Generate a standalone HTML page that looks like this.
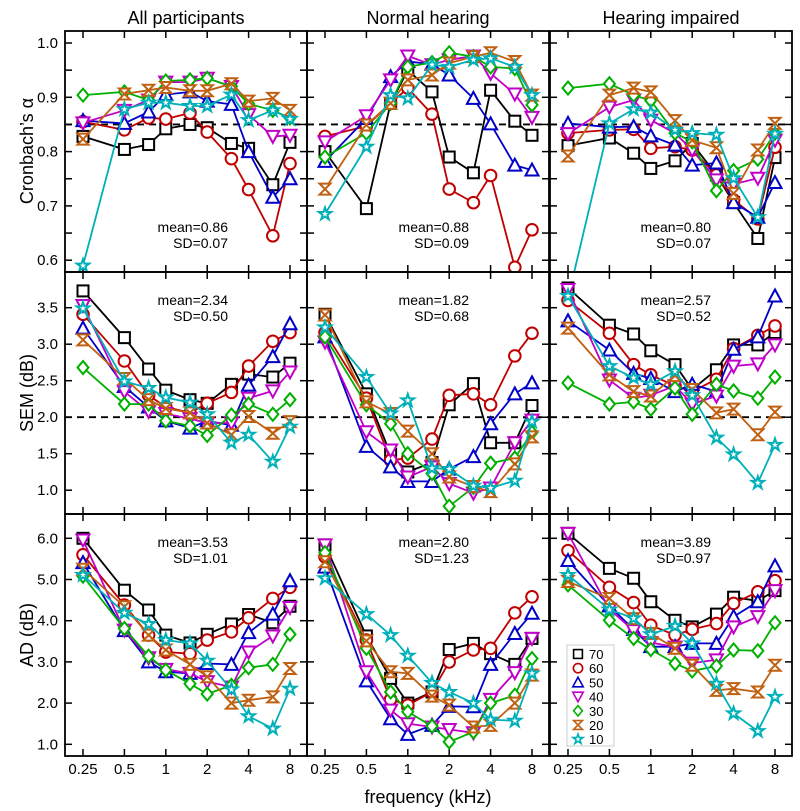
<!DOCTYPE html>
<html><head><meta charset="utf-8"><style>
body{margin:0;background:#fff;}
svg{display:block;font-family:"Liberation Sans",sans-serif;}
</style></head><body>
<svg id="chart" width="800" height="811" viewBox="0 0 800 811"></svg>
<script>
const freqs=[0.25,0.5,0.75,1,1.5,2,3,4,6,8];
const levels=["70","60","50","40","30","20","10"];
const colTitles=["All participants","Normal hearing","Hearing impaired"];
const rowTitles=["Cronbach\u2019s \u03b1","SEM (dB)","AD (dB)"];
const xTickLabels=["0.25","0.5","1","2","4","8"];
const xTickVals=[0.25,0.5,1,2,4,8];
const alphaTicks=[0.6,0.7,0.8,0.9,1.0];
const semTicks=[1.0,1.5,2.0,2.5,3.0,3.5];
const adTicks=[1.0,2.0,3.0,4.0,5.0,6.0];
const statsMean=[["0.86","0.88","0.80"],["2.34","1.82","2.57"],["3.53","2.80","3.89"]];
const statsSD=[["0.07","0.09","0.07"],["0.50","0.68","0.52"],["1.01","1.23","0.97"]];
const refLines=[0.85,2.0,null];
// alpha
const alphaAll=[
[0.828,0.804,0.813,0.842,0.85,0.844,0.815,0.806,0.739,0.817],
[0.855,0.84,0.862,0.86,0.871,0.836,0.787,0.73,0.645,0.778],
[0.857,0.852,0.873,0.905,0.91,0.893,0.887,0.80,0.716,0.75],
[0.853,0.876,0.895,0.928,0.928,0.935,0.92,0.868,0.828,0.83],
[0.904,0.91,0.895,0.93,0.932,0.935,0.92,0.888,0.876,0.862],
[0.823,0.906,0.913,0.918,0.912,0.912,0.925,0.893,0.898,0.876],
[0.59,0.878,0.89,0.89,0.884,0.884,0.905,0.858,0.876,0.86]];
const alphaNH=[
[0.80,0.695,0.889,0.95,0.91,0.79,0.761,0.913,0.856,0.83],
[0.828,0.847,0.889,0.917,0.869,0.731,0.706,0.756,0.587,0.656],
[0.782,0.861,0.938,0.966,0.961,0.941,0.898,0.851,0.775,0.766],
[0.818,0.866,0.932,0.976,0.96,0.969,0.976,0.944,0.906,0.863],
[0.79,0.834,0.889,0.956,0.964,0.982,0.975,0.956,0.953,0.886],
[0.731,0.849,0.889,0.932,0.941,0.963,0.975,0.982,0.966,0.904],
[0.685,0.809,0.904,0.898,0.96,0.956,0.969,0.972,0.956,0.904]];
const alphaHI=[
[0.811,0.825,0.797,0.769,0.783,0.815,0.757,0.706,0.64,0.789],
[0.834,0.84,0.841,0.806,0.809,0.803,0.757,0.711,0.676,0.808],
[0.852,0.845,0.846,0.829,0.812,0.775,0.779,0.706,0.679,0.743],
[0.833,0.882,0.895,0.858,0.834,0.803,0.748,0.74,0.751,0.821],
[0.917,0.925,0.904,0.894,0.834,0.818,0.728,0.765,0.786,0.834],
[0.792,0.904,0.917,0.91,0.857,0.821,0.807,0.723,0.803,0.852],
[0.53,0.852,0.878,0.872,0.84,0.834,0.831,0.751,0.679,0.833]];
// SEM
const semAll=[
[3.73,3.09,2.66,2.37,2.24,2.19,2.45,2.59,2.55,2.74],
[3.41,2.77,2.3,2.14,2.06,2.19,2.34,2.7,3.04,3.16],
[3.22,2.42,2.14,1.95,1.85,1.95,1.89,2.44,2.83,3.28],
[3.53,2.35,2.08,2.05,1.98,1.92,1.92,2.26,2.36,2.62],
[2.68,2.18,2.18,1.95,1.88,1.75,2.03,2.18,2.04,2.24],
[3.06,2.53,2.24,2.12,2.06,1.92,1.76,2.01,1.78,1.94],
[3.49,2.49,2.4,2.27,2.2,2.04,1.65,1.76,1.39,1.87]];
const semNH=[
[3.41,2.32,1.49,1.25,1.38,2.17,2.46,1.65,1.65,2.16],
[3.16,2.26,1.41,1.44,1.7,2.3,2.32,2.17,2.84,3.15],
[3.1,1.6,1.32,1.12,1.12,1.29,1.46,1.91,2.32,2.47],
[3.03,1.8,1.55,1.18,1.32,1.09,0.96,1.03,1.65,1.96],
[3.1,2.17,1.91,1.5,1.23,0.78,1.04,1.37,1.44,1.79],
[3.4,2.21,2.05,1.81,1.5,1.18,1.05,0.98,1.36,1.73],
[3.23,2.55,2.05,2.23,1.3,1.29,1.06,1.03,1.13,1.94]];
const semHI=[
[3.77,3.26,3.14,2.91,2.72,2.38,2.65,2.99,2.99,3.16],
[3.6,3.15,2.72,2.58,2.43,2.35,2.52,2.94,3.12,3.25],
[3.32,2.92,2.6,2.53,2.35,2.45,2.35,2.93,3.1,3.66],
[3.75,2.51,2.26,2.3,2.43,2.18,2.29,2.7,2.73,2.99],
[2.47,2.18,2.21,2.11,2.4,2.04,2.45,2.36,2.26,2.55],
[3.22,2.58,2.35,2.29,2.57,2.38,2.06,2.11,1.76,2.07],
[3.66,2.7,2.54,2.45,2.63,2.3,1.72,1.49,1.1,1.62]];
// AD
const adAll=[
[6.0,4.74,4.26,3.65,3.46,3.67,3.92,4.15,3.95,4.35],
[5.6,4.38,3.65,3.24,3.2,3.53,3.73,4.07,4.54,4.81],
[5.41,3.76,3.0,2.76,2.72,2.96,2.94,3.71,4.16,4.97],
[5.96,3.77,3.1,2.82,2.72,2.52,2.39,3.24,3.63,4.32],
[5.08,3.81,3.14,2.8,2.47,2.22,2.43,2.86,2.94,3.67],
[5.25,4.34,3.65,3.29,2.94,2.64,2.0,2.07,2.15,2.84],
[5.11,4.19,3.92,3.53,3.45,3.03,2.33,1.68,1.38,2.35]];
const adNH=[
[5.84,3.63,2.6,2.0,2.27,3.3,3.45,3.2,2.94,3.57],
[5.55,3.53,2.09,1.95,2.27,3.0,3.29,3.33,4.19,4.58],
[5.3,2.54,1.62,1.24,1.46,1.92,1.91,2.94,3.69,4.18],
[5.84,2.76,1.83,1.5,1.42,1.36,1.28,2.09,2.74,3.57],
[5.65,3.33,2.27,1.79,1.44,1.06,1.3,2.0,2.19,3.08],
[5.43,3.51,2.76,2.72,2.17,1.95,1.42,1.46,2.0,2.68],
[5.03,4.16,3.65,3.15,2.49,2.27,2.0,1.6,1.57,2.72]];
const adHI=[
[6.12,5.27,5.03,4.46,4.01,3.85,4.16,4.57,4.48,4.73],
[5.7,4.81,4.44,3.89,3.65,3.79,3.93,4.42,4.7,4.97],
[5.46,4.36,3.79,3.37,3.37,3.45,3.45,4.1,4.46,5.33],
[6.12,4.28,3.76,3.47,3.36,2.97,3.05,3.85,4.1,4.73],
[4.87,4.01,3.57,3.3,2.96,2.78,2.9,3.29,3.27,3.95],
[4.95,4.54,4.05,3.69,3.33,2.92,2.31,2.35,2.27,2.92],
[5.11,4.27,4.06,3.67,3.87,3.45,2.47,1.75,1.32,2.15]];
const panelData=[[alphaAll,alphaNH,alphaHI],[semAll,semNH,semHI],[adAll,adNH,adHI]];

const NS="http://www.w3.org/2000/svg";
const svg=document.getElementById('chart');
const colors=["#000000","#c00000","#0000c8","#c000c8","#00b000","#c06010","#00b0b8"];
const shapes=["square","circle","tri-up","tri-down","diamond","hourglass","star"];
const colX=[65,307,550], PW=242;
const rowY=[31,272,514], rowB=[272,514,756];
const yScales=[{v0:1.0,p0:43,k:543},{v0:3.5,p0:307.7,k:73},{v0:6.0,p0:538.3,k:41.2}];
const yTickSets=[alphaTicks,semTicks,adTicks];
const yMinor=[[0.6,0.65,0.7,0.75,0.8,0.85,0.9,0.95,1.0],semTicks,adTicks];
function xs(c,f){return colX[c]+18+Math.log2(f/0.25)*41.4;}
function ys(r,v){const s=yScales[r];return s.p0+(s.v0-v)*s.k;}
function mk(tag,attrs,parent){const e=document.createElementNS(NS,tag);for(const k in attrs)e.setAttribute(k,attrs[k]);(parent||svg).appendChild(e);return e;}
function marker(g,shape,x,y,color){
  const r=5.5;let e;
  if(shape==="square")e=mk('rect',{x:x-r,y:y-r,width:2*r,height:2*r},g);
  else if(shape==="circle")e=mk('circle',{cx:x,cy:y,r:r+0.3},g);
  else if(shape==="tri-up")e=mk('polygon',{points:`${x},${y-r-1} ${x+r+1},${y+r} ${x-r-1},${y+r}`},g);
  else if(shape==="tri-down")e=mk('polygon',{points:`${x},${y+r+1} ${x+r+1},${y-r} ${x-r-1},${y-r}`},g);
  else if(shape==="diamond")e=mk('polygon',{points:`${x},${y-r-1} ${x+r},${y} ${x},${y+r+1} ${x-r},${y}`},g);
  else if(shape==="hourglass")e=mk('polygon',{points:`${x-r},${y-r} ${x+r},${y-r} ${x-r},${y+r} ${x+r},${y+r}`},g);
  else{let p=[];for(let i=0;i<10;i++){const a=-Math.PI/2+i*Math.PI/5;const rr=i%2?r*0.45:r+1;p.push((x+rr*Math.cos(a)).toFixed(1)+','+(y+rr*Math.sin(a)).toFixed(1));}e=mk('polygon',{points:p.join(' ')},g);}
  e.setAttribute('fill','#fff');e.setAttribute('stroke',color);e.setAttribute('stroke-width','2');
  return e;
}
const defs=mk('defs',{});
for(let r=0;r<3;r++){for(let c=0;c<3;c++){
  const cp=mk('clipPath',{id:`clip${r}${c}`},defs);
  mk('rect',{x:colX[c],y:rowY[r],width:PW,height:rowB[r]-rowY[r]},cp);
}}
for(let r=0;r<3;r++){for(let c=0;c<3;c++){
  const g=mk('g',{});
  
  
  const x0=colX[c],x1=x0+PW,y0=rowY[r],y1=rowB[r];
  for(const v of yMinor[r]){const y=ys(r,v);
    mk('line',{x1:x0,x2:x0+7,y1:y,y2:y,stroke:'#000','stroke-width':1.5},g);
    mk('line',{x1:x1-7,x2:x1,y1:y,y2:y,stroke:'#000','stroke-width':1.5},g);}
  for(const f of xTickVals){const x=xs(c,f);
    mk('line',{x1:x,x2:x,y1:y0,y2:y0+7,stroke:'#000','stroke-width':1.5},g);
    mk('line',{x1:x,x2:x,y1:y1-7,y2:y1,stroke:'#000','stroke-width':1.5},g);}
  if(refLines[r]!==null){const y=ys(r,refLines[r]);
    const d=mk('line',{x1:x0,x2:x1,y1:y,y2:y,stroke:'#000','stroke-width':1.8,'stroke-dasharray':'7,5'},g);
    }
  const sg=mk('g',{'clip-path':`url(#clip${r}${c})`},g);
  const data=panelData[r][c];
  for(let s=0;s<7;s++){
    const ser=mk('g',{},sg);
    
    
    const pts=data[s].map((v,i)=>xs(c,freqs[i]).toFixed(1)+','+ys(r,v).toFixed(1)).join(' ');
    mk('polyline',{points:pts,fill:'none',stroke:colors[s],'stroke-width':1.8},ser);
    data[s].forEach((v,i)=>{const m=marker(ser,shapes[s],xs(c,freqs[i]),ys(r,v),colors[s]);
      
      });
  }
  const fr=mk('rect',{x:x0,y:y0,width:PW,height:y1-y0,fill:'none',stroke:'#000','stroke-width':1.8},g);
  
  const tx=[228,469,711][c];
  const sy=[[227,243],[300,316],[542,558]][r];
  const t1=mk('text',{x:tx,y:sy[0]+5,'text-anchor':'end','font-size':14},g);t1.textContent='mean='+statsMean[r][c];
  
  const t2=mk('text',{x:tx,y:sy[1]+5,'text-anchor':'end','font-size':14},g);t2.textContent='SD='+statsSD[r][c];
  
}}
for(let r=0;r<3;r++){for(const v of yTickSets[r]){
  const t=mk('text',{x:58,y:ys(r,v)+5,'text-anchor':'end','font-size':15});
  t.textContent=v.toFixed(1);
  }}
for(let c=0;c<3;c++){xTickVals.forEach((f,i)=>{
  const t=mk('text',{x:xs(c,f),y:774,'text-anchor':'middle','font-size':15});
  t.textContent=xTickLabels[i];
  });}
colTitles.forEach((s,c)=>{const t=mk('text',{x:colX[c]+PW/2,y:24,'text-anchor':'middle','font-size':18});t.textContent=s;
  });
const rowCY=[151,393,635];
rowTitles.forEach((s,r)=>{const t=mk('text',{x:0,y:0,'text-anchor':'middle','font-size':18,transform:`translate(33,${rowCY[r]}) rotate(-90)`});t.textContent=s;
  });
const xt=mk('text',{x:428,y:803,'text-anchor':'middle','font-size':18});xt.textContent='frequency (kHz)';

const lg=mk('g',{});

mk('rect',{x:567,y:645,width:47,height:101,fill:'#fff',stroke:'#ccc','stroke-width':1},lg);
levels.forEach((l,s)=>{const y=654+s*14.2;
  const e=mk('g',{},lg);
  
  const m=marker(e,shapes[s],578,y,colors[s]);m.setAttribute('transform',`translate(578,${y}) scale(0.8) translate(-578,${-y})`);
  const t=mk('text',{x:589,y:y+5,'font-size':13},e);t.textContent=l;});
</script>
</body></html>
